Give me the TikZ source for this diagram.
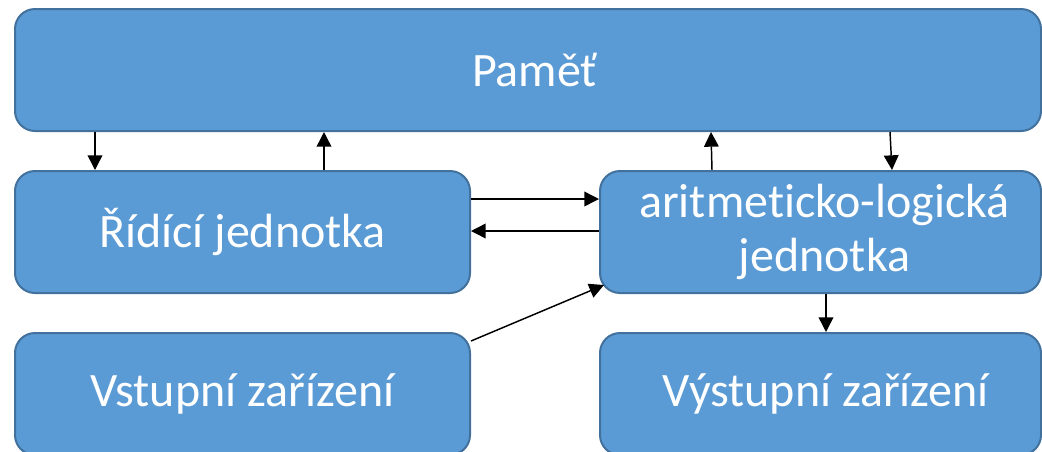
\documentclass[tikz,border=0pt]{standalone}
\usepackage{fontspec}
\setmainfont[Ligatures=NoCommon]{Carlito}
\usetikzlibrary{arrows.meta,calc}
\definecolor{boxfill}{HTML}{5B9BD5}
\definecolor{boxline}{HTML}{41719C}
\tikzset{
  block/.style={draw=boxline, fill=boxfill, line width=1.5pt, rounded corners=15pt,
    anchor=north west, inner sep=0pt, text=white, align=center,
    font=\fontsize{36pt}{40pt}\selectfont},
  arr/.style={-{Triangle[length=11pt,width=11pt]}, line width=1.1pt, black}
}
\begin{document}
\begin{tikzpicture}[x=0.75pt,y=-0.75pt]
\useasboundingbox (0,0) rectangle (1042,451);
\clip (0,0) rectangle (1042,451);
\node[block, minimum width=769.5pt, minimum height=91.5pt] (mem) at (14,8) {\hspace*{10pt}Paměť};
\node[block, minimum width=341.25pt, minimum height=91.5pt] (ctrl) at (14,170) {Řídící jednotka};
\node[block, minimum width=330.75pt, minimum height=91.5pt] (alu) at (599,170) {\hspace*{6pt}aritmeticko-logická\\\hspace*{6pt}jednotka};
\node[block, minimum width=341.25pt, minimum height=91.5pt] (in) at (14,332) {Vstupní zařízení};
\node[block, minimum width=330.75pt, minimum height=91.5pt] (out) at (599,332) {\hspace*{8pt}Výstupní zařízení};
% arrows
\draw[arr] (mem.south -| 95,0) -- (ctrl.north -| 95,0);
\draw[arr] (ctrl.north -| 324,0) -- (mem.south -| 324,0);
\draw[arr] (alu.north -| 712,0) -- (mem.south -| 711,0);
\draw[arr] (mem.south -| 890,0) -- (alu.north -| 892,0);
\draw[arr] (ctrl.east |- 0,199) -- (alu.west |- 0,199);
\draw[arr] (alu.west |- 0,231) -- (ctrl.east |- 0,231);
\draw[arr] ($(in.north east)+(0,9)$) -- ($(alu.south west)+(5,-9)$);
\draw[arr] (alu.south -| 826,0) -- (out.north -| 826,0);
\end{tikzpicture}
\end{document}
